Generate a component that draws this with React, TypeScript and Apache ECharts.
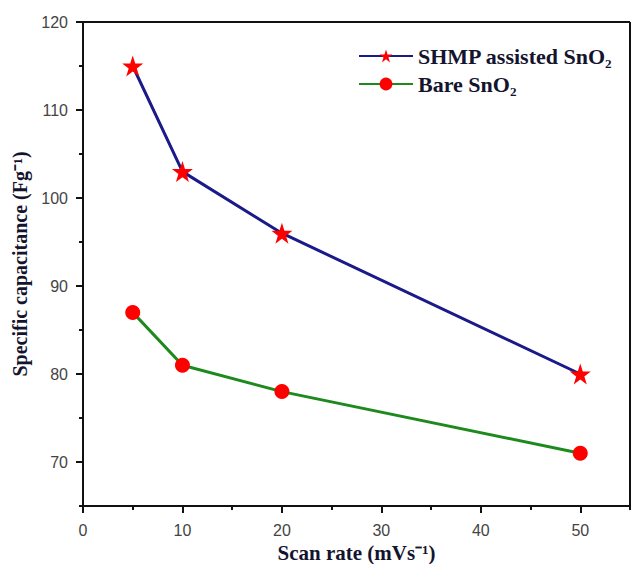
import React, { useEffect, useRef } from "react";
import * as echarts from "echarts";

const scanRates = [5, 10, 20, 50];
const shmpValues = [115, 103, 96, 80];
const bareValues = [87, 81, 78, 71];
const seriesNames = ["SHMP assisted SnO₂", "Bare SnO₂"];
const yMajorTicks = [70, 80, 90, 100, 110, 120];
const xMajorTicks = [0, 10, 20, 30, 40, 50];

export default function App() {
  const ref = useRef<HTMLDivElement>(null);
  useEffect(() => {
    const chart = echarts.init(ref.current!, null, { renderer: "svg" });
    const serif = "'Liberation Serif', 'Times New Roman', serif";
    const sans = "'Liberation Sans', Arial, sans-serif";
    const ink = "#14142e";
    const nameStyle = (size: number) => ({
      color: ink,
      fontFamily: serif,
      fontWeight: "bold",
      fontSize: size,
      lineHeight: size,
    });
    const line = { show: true, onZero: false, lineStyle: { color: "#111", width: 2 } };
    const label = { color: "#444", fontFamily: sans, fontSize: 16, margin: 16 };
    chart.setOption({
      animation: false,
      backgroundColor: "#fff",
      grid: { left: 83, top: 22, right: 3, bottom: 58, show: false, outerBoundsMode: "none", containLabel: false },
      legend: {
        orient: "vertical",
        left: 353,
        top: 40,
        itemWidth: 54,
        itemHeight: 16,
        itemGap: 6,
        textStyle: { color: ink, fontFamily: serif, fontWeight: "bold", fontSize: 22 },
        data: seriesNames,
      },
      xAxis: [
        {
          type: "value",
          min: 0,
          max: 55,
          interval: 5,
          name: "Scan rate (mVs⁻¹)",
          nameLocation: "middle",
          nameGap: 33,
          nameTextStyle: nameStyle(21),
          axisLine: line,
          axisTick: { show: true, length: 4, lineStyle: { color: "#111", width: 2 } },
          splitLine: { show: false },
          axisLabel: { ...label, customValues: xMajorTicks },
        },
        {
          type: "value",
          min: 0,
          max: 55,
          position: "bottom",
          axisLine: { show: false },
          axisTick: { show: true, length: 7, customValues: xMajorTicks, lineStyle: { color: "#111", width: 2 } },
          axisLabel: { show: false },
          splitLine: { show: false },
        },
      ],
      yAxis: [
        {
          type: "value",
          min: 65,
          max: 120,
          interval: 5,
          name: "Specific capacitance (Fg⁻¹)",
          nameLocation: "middle",
          nameGap: 50,
          nameTextStyle: nameStyle(20),
          axisLine: line,
          axisTick: { show: true, length: 4, lineStyle: { color: "#111", width: 2 } },
          splitLine: { show: false },
          axisLabel: { ...label, margin: 15, customValues: yMajorTicks },
        },
        {
          type: "value",
          min: 65,
          max: 120,
          position: "left",
          axisLine: { show: false },
          axisTick: { show: true, length: 7, customValues: yMajorTicks, lineStyle: { color: "#111", width: 2 } },
          axisLabel: { show: false },
          splitLine: { show: false },
        },
      ],
      series: [
        {
          name: seriesNames[0],
          type: "line",
          data: scanRates.map((x, i) => [x, shmpValues[i]]),
          symbol: "path://M50,0 L61.8,35.5 L99,35.5 L69,57.5 L80.5,93 L50,71 L19.5,93 L31,57.5 L1,35.5 L38.2,35.5 Z",
          symbolSize: 21,
          itemStyle: { color: "#ff0000" },
          lineStyle: { color: "#1a1a8a", width: 3 },
        },
        {
          name: seriesNames[1],
          type: "line",
          data: scanRates.map((x, i) => [x, bareValues[i]]),
          symbol: "circle",
          symbolSize: 15,
          itemStyle: { color: "#ff0000" },
          lineStyle: { color: "#1e8a1e", width: 3 },
        },
      ],
      graphic: [
        {
          type: "line",
          shape: { x1: 83, y1: 22, x2: 630, y2: 22 },
          style: { stroke: "#111", lineWidth: 2 },
        },
        {
          type: "line",
          shape: { x1: 630, y1: 22, x2: 630, y2: 506 },
          style: { stroke: "#111", lineWidth: 2 },
        },
      ],
    });
    return () => chart.dispose();
  }, []);
  return <div ref={ref} style={{ position: "fixed", left: 0, top: 0, width: 633, height: 564 }} />;
}
